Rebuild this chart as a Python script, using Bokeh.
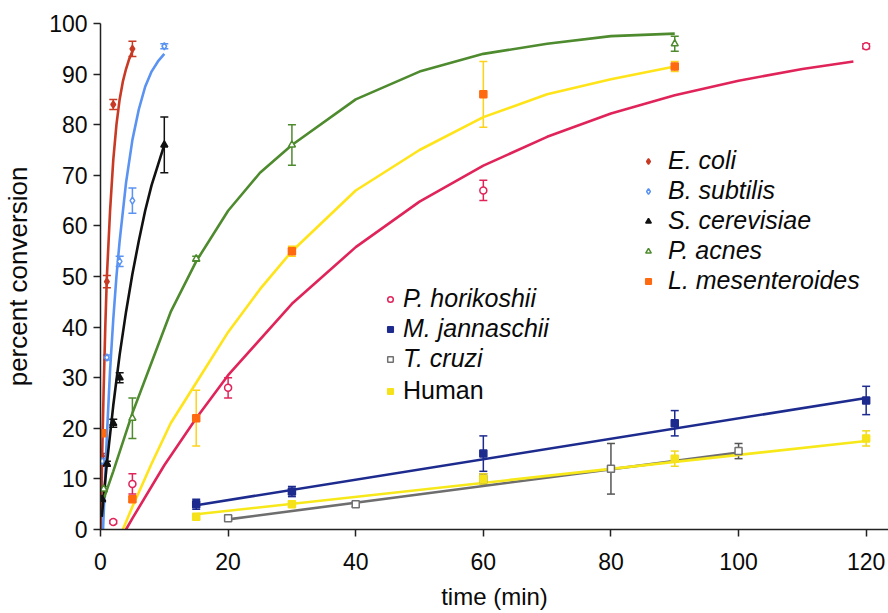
from bokeh.plotting import figure
from bokeh.models import (ColumnDataSource, Whisker, TeeHead, Legend, LegendItem,
                          Range1d, FixedTicker)
from bokeh.embed import file_html
from bokeh.resources import INLINE

# ---------------- data ----------------
x_ticks = [0, 20, 40, 60, 80, 100, 120]
y_ticks = [0, 10, 20, 30, 40, 50, 60, 70, 80, 90, 100]

# measured points: time (min), percent conversion, error
ecoli_t = [0.25, 1, 2, 5]
ecoli_y = [14.5, 49, 84, 95]
ecoli_e = [0.5, 1.2, 1.0, 1.5]
ecoli_fit_t = [0.05, 0.25, 0.5, 0.75, 1, 1.5, 2, 2.5, 3, 3.5, 4, 4.5, 5]
ecoli_fit_y = [0, 14, 28, 40, 50, 63, 73, 80, 85, 88.5, 91, 93, 94.5]

bsub_t = [0.25, 1, 3, 5, 10]
bsub_y = [13.5, 34, 53, 65, 95.5]
bsub_e = [0.5, 0.5, 1.0, 2.5, 0.5]
bsub_fit_t = [0.4, 0.75, 1, 1.5, 2, 2.5, 3, 4, 5, 6, 7, 8, 9, 10]
bsub_fit_y = [0, 11, 18.5, 31.5, 41.5, 50, 57, 68.5, 77, 83, 87.5, 90.5, 92.5, 94]

scer_t = [0.25, 1, 2, 3, 10]
scer_y = [6, 13, 21, 30, 76]
scer_e = [0.5, 0.5, 0.8, 1.0, 5.5]
scer_fit_t = [0.2, 1, 2, 3, 4, 5, 6, 7, 8, 9, 10]
scer_fit_y = [2.5, 13, 24.5, 34.5, 43, 50.5, 57, 63, 68, 72, 76]

pacn_t = [0.5, 5, 15, 30, 90]
pacn_y = [8, 22, 53.5, 76, 96]
pacn_e = [0.5, 4.0, 0.5, 4.0, 1.5]
pacn_fit_t = [0.5, 2, 5, 8, 11, 15, 20, 25, 30, 40, 50, 60, 70, 80, 90]
pacn_fit_y = [6, 11.5, 23, 33, 43, 53, 63, 70.5, 76, 85, 90.5, 94, 96, 97.5, 98]

lmes_t = [0.3, 5, 15, 30, 60, 90]
lmes_y = [19, 6, 22, 55, 86, 91.5]
lmes_e = [0.5, 0.5, 5.5, 1.0, 6.5, 1.0]
lmes_fit_t = [3.5, 5, 8, 11, 15, 20, 25, 30, 40, 50, 60, 70, 80, 90]
lmes_fit_y = [0, 4.5, 13, 21, 29, 39, 47.5, 55, 67, 75, 81.5, 86, 89, 91.5]

phor_t = [2, 5, 20, 60, 120]
phor_y = [1.5, 9, 28, 67, 95.5]
phor_e = [0.3, 2.0, 2.0, 2.0, 0.5]
phor_fit_t = [4, 5, 10, 15, 20, 30, 40, 50, 60, 70, 80, 90, 100, 110, 118]
phor_fit_y = [0, 2.2, 12.7, 22, 30.5, 44.6, 55.8, 64.8, 71.9, 77.6, 82.2, 85.8, 88.7, 91, 92.5]

mjan_t = [15, 30, 60, 90, 120]
mjan_y = [5, 7.5, 15, 21, 25.5]
mjan_e = [1.0, 1.0, 3.5, 2.5, 2.8]
mjan_fit_t = [15, 120]
mjan_fit_y = [4.8, 26]

tcru_t = [20, 40, 60, 80, 100]
tcru_y = [2.2, 5, 10, 12, 15.5]
tcru_e = [0.5, 0.5, 1.0, 5.0, 1.5]
tcru_fit_t = [20, 100]
tcru_fit_y = [2, 15.2]

human_t = [15, 30, 60, 90, 120]
human_y = [2.5, 5, 10, 14, 18]
human_e = [0.5, 0.5, 1.0, 1.5, 1.5]
human_fit_t = [15, 120]
human_fit_y = [3, 17.5]

# ---------------- styles ----------------
FONT = "Liberation Sans"
series = [
    dict(name="E. coli", t=ecoli_t, y=ecoli_y, e=ecoli_e, ft=ecoli_fit_t, fy=ecoli_fit_y,
         color="#c83a24", lcolor="#c83a24", ecolor="#c83a24", marker="diamond", fill=True),
    dict(name="B. subtilis", t=bsub_t, y=bsub_y, e=bsub_e, ft=bsub_fit_t, fy=bsub_fit_y,
         color="#5a93f2", lcolor="#5a93f2", ecolor="#5a93f2", marker="diamond", fill=False),
    dict(name="S. cerevisiae", t=scer_t, y=scer_y, e=scer_e, ft=scer_fit_t, fy=scer_fit_y,
         color="#111111", lcolor="#111111", ecolor="#111111", marker="triangle", fill=True),
    dict(name="P. acnes", t=pacn_t, y=pacn_y, e=pacn_e, ft=pacn_fit_t, fy=pacn_fit_y,
         color="#4e8a2e", lcolor="#4e8a2e", ecolor="#4e8a2e", marker="triangle", fill=False),
    dict(name="L. mesenteroides", t=lmes_t, y=lmes_y, e=lmes_e, ft=lmes_fit_t, fy=lmes_fit_y,
         color="#ff6a10", lcolor="#ffe41a", ecolor="#ffd21a", marker="square", fill=True),
    dict(name="P. horikoshii", t=phor_t, y=phor_y, e=phor_e, ft=phor_fit_t, fy=phor_fit_y,
         color="#e0245a", lcolor="#e0245a", ecolor="#e0245a", marker="circle", fill=False),
    dict(name="M. jannaschii", t=mjan_t, y=mjan_y, e=mjan_e, ft=mjan_fit_t, fy=mjan_fit_y,
         color="#1d2b8e", lcolor="#1d2b8e", ecolor="#1d2b8e", marker="square", fill=True),
    dict(name="T. cruzi", t=tcru_t, y=tcru_y, e=tcru_e, ft=tcru_fit_t, fy=tcru_fit_y,
         color="#707070", lcolor="#6e6e6e", ecolor="#555555", marker="square", fill=False),
    dict(name="Human", t=human_t, y=human_y, e=human_e, ft=human_fit_t, fy=human_fit_y,
         color="#f5e21a", lcolor="#f7e81a", ecolor="#f0d81a", marker="square", fill=True),
]

W, H = 888, 613
p = figure(width=W, height=H, output_backend="svg", toolbar_location=None,
           x_range=Range1d(0, 123.5), y_range=Range1d(0, 100),
           min_border_left=100, min_border_right=0, min_border_top=23, min_border_bottom=84)
p.outline_line_color = None
p.grid.visible = False
p.background_fill_color = "white"

for ax in (p.xaxis[0], p.yaxis[0]):
    ax.axis_line_color = "#222222"
    ax.axis_line_width = 1.5
    ax.major_tick_line_color = "#222222"
    ax.major_tick_line_width = 1.5
    ax.major_tick_in = 0
    ax.major_tick_out = 7
    ax.minor_tick_line_color = None
    ax.major_label_text_font = FONT
    ax.major_label_text_font_size = "23px"
    ax.major_label_text_color = "#0a0a0a"
    ax.axis_label_text_font = FONT
    ax.axis_label_text_font_style = "normal"
    ax.axis_label_text_color = "#0a0a0a"

p.xaxis[0].axis_label_text_font_size = "24px"
p.yaxis[0].axis_label_text_font_size = "26px"
p.xaxis[0].ticker = FixedTicker(ticks=x_ticks)
p.yaxis[0].ticker = FixedTicker(ticks=y_ticks)
p.xaxis[0].axis_label = "time (min)"
p.yaxis[0].axis_label = "percent conversion"
p.xaxis[0].major_label_standoff = 16
p.xaxis[0].axis_label_standoff = 10
p.yaxis[0].major_label_standoff = 6
p.yaxis[0].axis_label_standoff = 13

renderers = {}
# fitted curves
for s in series:
    p.line(s["ft"], s["fy"], line_color=s["lcolor"], line_width=2.6)

# error bars and points
for s in series:
    lo = [yy - ee for yy, ee in zip(s["y"], s["e"])]
    hi = [yy + ee for yy, ee in zip(s["y"], s["e"])]
    src = ColumnDataSource(dict(t=s["t"], y=s["y"], lo=lo, hi=hi))
    wk = Whisker(source=src, base="t", lower="lo", upper="hi", line_color=s["ecolor"],
                 line_width=1.5,
                 upper_head=TeeHead(size=8, line_color=s["ecolor"], line_width=1.5),
                 lower_head=TeeHead(size=8, line_color=s["ecolor"], line_width=1.5))
    p.add_layout(wk)
    r = p.scatter("t", "y", source=src, marker=s["marker"], size=7,
                  line_color=s["color"], line_width=1.5,
                  fill_color=s["color"] if s["fill"] else "white")
    renderers[s["name"]] = r


def make_legend(names, loc, standoff, italic=True):
    lg = Legend(items=[LegendItem(label=n, renderers=[renderers[n]]) for n in names],
                location=loc, orientation="vertical",
                label_text_font=FONT, label_text_font_size="25px",
                label_text_font_style="italic" if italic else "normal",
                label_text_color="#0a0a0a",
                label_height=27, glyph_height=14, glyph_width=14, spacing=1,
                label_standoff=standoff, padding=0, margin=0,
                border_line_color=None, background_fill_alpha=0)
    p.add_layout(lg)


make_legend(["E. coli", "B. subtilis", "S. cerevisiae", "P. acnes", "L. mesenteroides"],
            (541, 234), 13)
make_legend(["P. horikoshii", "M. jannaschii", "T. cruzi"], (283, 156), 6)
make_legend(["Human"], (283, 124), 6, italic=False)

open("out.html", "w").write(file_html(p, INLINE))
